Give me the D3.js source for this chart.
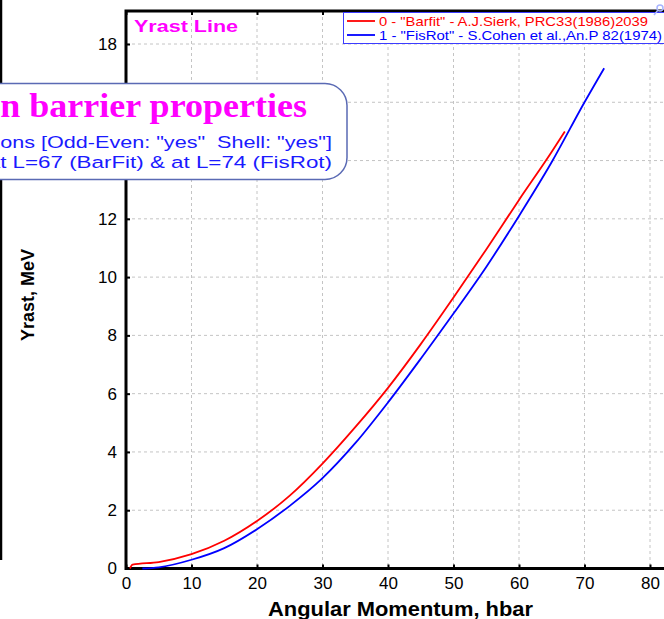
<!DOCTYPE html>
<html>
<head>
<meta charset="utf-8">
<script src="https://cdn.jsdelivr.net/npm/d3@7"></script>
<style>
  body { margin: 0; background: #fff; }
  svg { display: block; }
  text { white-space: pre; }
</style>
</head>
<body>
<svg width="664" height="619"></svg>
<script>
const svg = d3.select("svg");
const SANS = "'Liberation Sans', Arial, sans-serif";
const SERIF = "'Liberation Serif', 'Times New Roman', serif";

// DATA
const barfitL = [0.6, 1, 5, 10, 15, 20, 25, 30, 35, 40, 45, 50, 55, 60, 65, 67];
const barfitE = [0, 0.13, 0.22, 0.49, 0.95, 1.63, 2.5, 3.6, 4.85, 6.2, 7.7, 9.3, 10.95, 12.65, 14.3, 15.0];
const fisrotL = [2.5, 5, 10, 15, 20, 25, 30, 35, 40, 45, 50, 55, 60, 65, 70, 73];
const fisrotE = [0, 0.04, 0.3, 0.7, 1.35, 2.15, 3.1, 4.3, 5.7, 7.2, 8.75, 10.35, 12.1, 13.95, 16.0, 17.17];
const xTicks = [0, 10, 20, 30, 40, 50, 60, 70, 80];
const yTicks = [0, 2, 4, 6, 8, 10, 12, 14, 16, 18];
const legendLabels = [
  '0 - "Barfit" - A.J.Sierk, PRC33(1986)2039',
  '1 - "FisRot" - S.Cohen et al.,An.P 82(1974)'
];

const series = [
  { color: "#ff0000", pts: barfitL.map((l, i) => [l, barfitE[i]]) },
  { color: "#0000ff", pts: fisrotL.map((l, i) => [l, fisrotE[i]]) }
];

// SCALES
const x = d3.scaleLinear().domain([0, 80]).range([126, 650]);
const y = d3.scaleLinear().domain([0, 18]).range([568.5, 44]);
const plotTop = 11, plotRight = 700;

// panel edge on the far left
svg.append("line")
  .attr("x1", 1).attr("x2", 1).attr("y1", 0).attr("y2", 560)
  .attr("stroke", "#000").attr("stroke-width", 2.5);

// GRID
const grid = svg.append("g").attr("stroke", "#c4c4c4").attr("stroke-dasharray", "3,3");
grid.selectAll("line.v").data(xTicks.slice(1)).enter().append("line")
  .attr("x1", d => x(d)).attr("x2", d => x(d))
  .attr("y1", plotTop).attr("y2", y(0));
grid.selectAll("line.h").data(yTicks.slice(1)).enter().append("line")
  .attr("x1", x(0)).attr("x2", plotRight)
  .attr("y1", d => y(d)).attr("y2", d => y(d));

// AXES
const xAxis = svg.append("g")
  .attr("transform", `translate(0,${y(0)})`)
  .call(d3.axisBottom(x).tickValues(xTicks).tickSize(-4).tickPadding(8));
const yAxis = svg.append("g")
  .attr("transform", `translate(${x(0)},0)`)
  .call(d3.axisLeft(y).tickValues(yTicks).tickSize(-4).tickPadding(9));
const topAxis = svg.append("g")
  .attr("transform", `translate(0,${plotTop})`)
  .call(d3.axisTop(x).tickValues(xTicks).tickSize(-4).tickFormat(""));

[xAxis, yAxis, topAxis].forEach(a => {
  a.select(".domain").remove();
  a.selectAll(".tick line").attr("stroke", "#000").attr("stroke-width", 2);
  a.selectAll("text")
    .attr("font-family", SANS)
    .attr("font-size", 17).attr("fill", "#000");
});

// frame
svg.append("path")
  .attr("d", `M${plotRight},${plotTop}H${x(0)}V${y(0)}H${plotRight}`)
  .attr("fill", "none").attr("stroke", "#000").attr("stroke-width", 3);

// CURVES
const line = d3.line().x(p => x(p[0])).y(p => y(p[1])).curve(d3.curveMonotoneX);
svg.selectAll("path.curve").data(series).enter().append("path")
  .attr("class", "curve")
  .attr("d", d => line(d.pts))
  .attr("fill", "none")
  .attr("stroke", d => d.color)
  .attr("stroke-width", 1.8);

// TITLES
svg.append("text")
  .attr("x", 134).attr("y", 32)
  .attr("font-family", SANS)
  .attr("font-weight", "bold").attr("font-size", 17)
  .attr("textLength", 104).attr("lengthAdjust", "spacingAndGlyphs")
  .attr("fill", "#ff00ff")
  .text("Yrast Line");

svg.append("text")
  .attr("x", 268).attr("y", 616)
  .attr("font-family", SANS)
  .attr("font-weight", "bold").attr("font-size", 20)
  .attr("textLength", 265).attr("lengthAdjust", "spacingAndGlyphs")
  .text("Angular Momentum, hbar");

svg.append("text")
  .attr("transform", "translate(34,295) rotate(-90)")
  .attr("text-anchor", "middle")
  .attr("font-family", SANS)
  .attr("font-weight", "bold").attr("font-size", 18)
  .text("Yrast, MeV");

// LEGEND
const legend = svg.append("g");
legend.append("rect")
  .attr("x", 343.5).attr("y", 12.5).attr("width", 340).attr("height", 31)
  .attr("fill", "#fff").attr("stroke", "#3c3cff").attr("stroke-width", 1);
const legendWidths = [269, 283];
legendLabels.forEach((lab, i) => {
  const ly = 21 + i * 14;
  legend.append("line")
    .attr("x1", 347).attr("x2", 375).attr("y1", ly).attr("y2", ly)
    .attr("stroke", series[i].color).attr("stroke-width", 1.8);
  legend.append("text")
    .attr("x", 379).attr("y", ly + 5)
    .attr("font-family", SANS)
    .attr("font-size", 13)
    .attr("textLength", legendWidths[i]).attr("lengthAdjust", "spacingAndGlyphs")
    .attr("fill", series[i].color)
    .text(lab);
});
// tiny tool glyph
const glyph = svg.append("g").attr("stroke", "#a8b4ff").attr("stroke-width", 1.5).attr("fill", "none");
glyph.append("circle").attr("cx", 660).attr("cy", 8).attr("r", 3);
glyph.append("line").attr("x1", 658).attr("y1", 10).attr("x2", 654).attr("y2", 15);

// INFO BOX
const info = svg.append("g");
info.append("rect")
  .attr("x", -40).attr("y", 83.5).attr("width", 387).attr("height", 96)
  .attr("rx", 22).attr("ry", 22)
  .attr("fill", "#fff").attr("stroke", "#5a6ab4").attr("stroke-width", 1.5);

// right-aligned line, stretched so that its tail part spans [0, right]
function boxLine(full, tail, right, base, font, size, weight, color) {
  const probe = info.append("text")
    .attr("font-family", font).attr("font-size", size).attr("font-weight", weight)
    .text(tail);
  const w = probe.node().getComputedTextLength();
  probe.remove();
  const s = right / w;
  info.append("text")
    .attr("transform", `translate(${right},${base}) scale(${s},1)`)
    .attr("text-anchor", "end")
    .attr("font-family", font).attr("font-size", size).attr("font-weight", weight)
    .attr("fill", color)
    .text(full);
}
boxLine("Fission barrier properties", "n barrier properties", 307, 117, SERIF, 34, "bold", "#ff00ff");
boxLine('Calculations [Odd-Even: "yes"  Shell: "yes"]', 'ons [Odd-Even: "yes"  Shell: "yes"]', 332, 148, SANS, 17, "normal", "#1a1aff");
boxLine("Zero barrier at L=67 (BarFit) & at L=74 (FisRot)", "t L=67 (BarFit) & at L=74 (FisRot)", 332, 168, SANS, 17, "normal", "#1a1aff");
</script>
</body>
</html>
